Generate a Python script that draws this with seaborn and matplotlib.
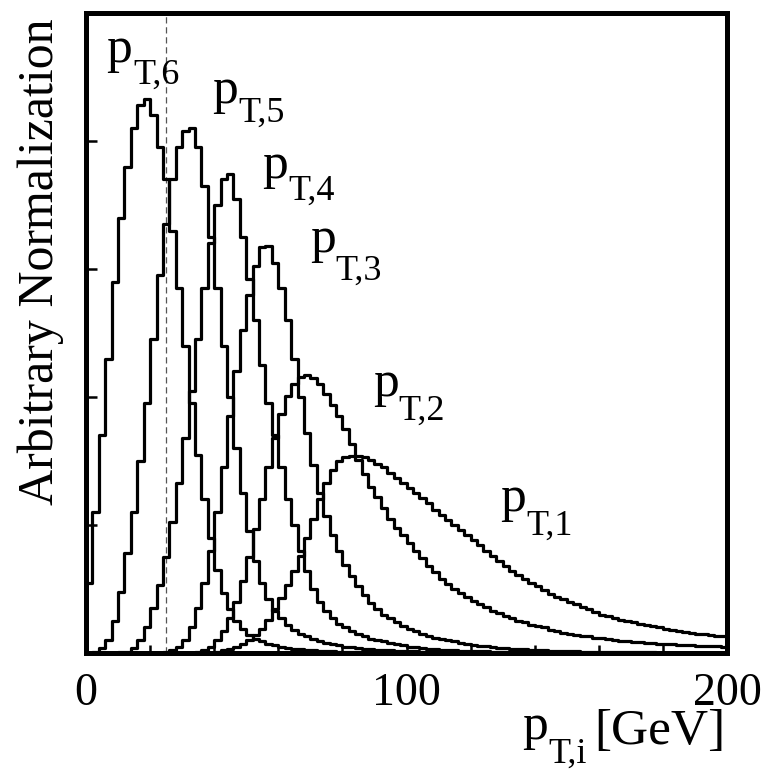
import numpy as np
import pandas as pd
import matplotlib
matplotlib.use("Agg")
import matplotlib.pyplot as plt
import seaborn as sns

# ---- data: 2 GeV bins from 0 to 200 GeV ----
bin_edges = list(range(0, 202, 2))
bin_centers = [e + 1 for e in bin_edges[:-1]]

pt6 = [0.55, 1.1, 1.7, 2.3, 2.9, 3.4, 3.8, 4.1, 4.28, 4.33,
       4.2, 3.95, 3.7, 3.3, 2.85, 2.4, 1.95, 1.55, 1.2, 0.9,
       0.65, 0.47, 0.34, 0.25, 0.19, 0.14, 0.11, 0.09, 0.07, 0.06,
       0.05, 0.04, 0.035, 0.03, 0.025, 0.02, 0.017, 0.014, 0.012, 0.01,
       0.008, 0.007, 0.006, 0.005, 0.004, 0.003, 0.003, 0.002, 0.002, 0.002,
       0.001, 0.001, 0.001, 0.001, 0.001, 0.001, 0.001, 0.001, 0.001, 0.001,
       0, 0, 0, 0, 0, 0, 0, 0, 0, 0,
       0, 0, 0, 0, 0, 0, 0, 0, 0, 0,
       0, 0, 0, 0, 0, 0, 0, 0, 0, 0,
       0, 0, 0, 0, 0, 0, 0, 0, 0, 0]

pt5 = [0, 0.01, 0.04, 0.1, 0.25, 0.48, 0.78, 1.1, 1.5, 1.95,
       2.45, 2.95, 3.35, 3.7, 3.95, 4.08, 4.1, 3.95, 3.65, 3.25,
       2.85, 2.4, 2.0, 1.6, 1.25, 0.95, 0.72, 0.55, 0.42, 0.33,
       0.27, 0.22, 0.18, 0.15, 0.13, 0.11, 0.09, 0.08, 0.07, 0.06,
       0.05, 0.045, 0.04, 0.035, 0.03, 0.026, 0.023, 0.02, 0.018, 0.016,
       0.014, 0.012, 0.011, 0.01, 0.009, 0.008, 0.007, 0.006, 0.005, 0.005,
       0.004, 0.004, 0.003, 0.003, 0.003, 0.002, 0.002, 0.002, 0.002, 0.001,
       0.001, 0.001, 0.001, 0.001, 0.001, 0.001, 0.001, 0.001, 0.001, 0.001,
       0, 0, 0, 0, 0, 0, 0, 0, 0, 0,
       0, 0, 0, 0, 0, 0, 0, 0, 0, 0]

pt4 = [0, 0, 0, 0, 0, 0.005, 0.01, 0.04, 0.1, 0.2,
       0.35, 0.53, 0.75, 1.02, 1.33, 1.68, 2.05, 2.45, 2.85, 3.2,
       3.5, 3.7, 3.74, 3.55, 3.25, 2.92, 2.6, 2.25, 1.95, 1.7,
       1.45, 1.2, 1.0, 0.8, 0.64, 0.5, 0.4, 0.33, 0.27, 0.23,
       0.2, 0.17, 0.15, 0.13, 0.11, 0.1, 0.09, 0.08, 0.07, 0.06,
       0.05, 0.045, 0.04, 0.035, 0.03, 0.027, 0.024, 0.021, 0.019, 0.017,
       0.015, 0.013, 0.012, 0.011, 0.01, 0.009, 0.008, 0.007, 0.006, 0.005,
       0.005, 0.004, 0.004, 0.003, 0.003, 0.003, 0.002, 0.002, 0.002, 0.002,
       0.001, 0.001, 0.001, 0.001, 0.001, 0.001, 0.001, 0.001, 0.001, 0.001,
       0, 0, 0, 0, 0, 0, 0, 0, 0, 0]

pt3 = [0, 0, 0, 0, 0, 0, 0, 0, 0, 0,
       0, 0, 0.005, 0.02, 0.05, 0.1, 0.2, 0.35, 0.55, 0.8,
       1.1, 1.45, 1.85, 2.2, 2.52, 2.8, 3.02, 3.17, 3.18, 3.05,
       2.85, 2.6, 2.3, 2.0, 1.72, 1.47, 1.25, 1.07, 0.92, 0.8,
       0.69, 0.6, 0.52, 0.45, 0.39, 0.34, 0.3, 0.27, 0.24, 0.21,
       0.19, 0.17, 0.15, 0.135, 0.12, 0.11, 0.1, 0.09, 0.08, 0.072,
       0.065, 0.058, 0.052, 0.047, 0.042, 0.038, 0.034, 0.031, 0.028, 0.025,
       0.022, 0.02, 0.018, 0.016, 0.015, 0.013, 0.012, 0.011, 0.01, 0.009,
       0.008, 0.007, 0.007, 0.006, 0.005, 0.005, 0.004, 0.004, 0.004, 0.003,
       0.003, 0.003, 0.002, 0.002, 0.002, 0.002, 0.002, 0.001, 0.001, 0.001]

pt2 = [0, 0, 0, 0, 0, 0, 0, 0, 0, 0,
       0, 0, 0, 0, 0, 0, 0.003, 0.01, 0.025, 0.05,
       0.1, 0.17, 0.27, 0.4, 0.56, 0.75, 0.97, 1.2, 1.45, 1.68,
       1.87, 2.01, 2.1, 2.16, 2.17, 2.15, 2.1, 2.02, 1.94, 1.85,
       1.75, 1.63, 1.51, 1.4, 1.3, 1.22, 1.13, 1.05, 0.98, 0.92,
       0.86, 0.8, 0.74, 0.68, 0.63, 0.58, 0.54, 0.5, 0.47, 0.44,
       0.41, 0.38, 0.36, 0.33, 0.31, 0.29, 0.27, 0.25, 0.24, 0.22,
       0.21, 0.2, 0.18, 0.17, 0.16, 0.15, 0.14, 0.135, 0.13, 0.12,
       0.115, 0.11, 0.1, 0.097, 0.093, 0.089, 0.085, 0.081, 0.077, 0.074,
       0.071, 0.068, 0.065, 0.062, 0.06, 0.057, 0.055, 0.053, 0.051, 0.049]

pt1 = [0, 0, 0, 0, 0, 0, 0, 0, 0, 0,
       0, 0, 0, 0, 0, 0, 0, 0, 0, 0,
       0.01, 0.02, 0.03, 0.05, 0.07, 0.1, 0.14, 0.19, 0.26, 0.34,
       0.43, 0.53, 0.64, 0.76, 0.9, 1.05, 1.2, 1.33, 1.43, 1.5,
       1.53, 1.54, 1.54, 1.53, 1.51, 1.48, 1.45, 1.41, 1.37, 1.33,
       1.29, 1.25, 1.21, 1.17, 1.12, 1.08, 1.04, 1.0, 0.96, 0.92,
       0.88, 0.84, 0.8, 0.76, 0.72, 0.68, 0.64, 0.61, 0.58, 0.55,
       0.52, 0.49, 0.46, 0.44, 0.42, 0.4, 0.38, 0.36, 0.34, 0.32,
       0.3, 0.29, 0.27, 0.26, 0.25, 0.24, 0.23, 0.22, 0.21, 0.2,
       0.19, 0.18, 0.17, 0.165, 0.16, 0.15, 0.145, 0.14, 0.135, 0.13]

series_names = ["pT1", "pT2", "pT3", "pT4", "pT5", "pT6"]
series_values = [pt1, pt2, pt3, pt4, pt5, pt6]
label_subs = ["T,1", "T,2", "T,3", "T,4", "T,5", "T,6"]

x_ticks = [0, 20, 40, 60, 80, 100, 120, 140, 160, 180, 200]
x_ticklabels = ["0", "", "", "", "", "100", "", "", "", "", "200"]
y_ticks = [1, 2, 3, 4]
cut_value = 25

# ---- figure ----
sns.set_style("ticks")
plt.rcParams["font.family"] = ["Liberation Serif", "DejaVu Serif"]
plt.rcParams["text.color"] = "black"
plt.rcParams["xtick.color"] = "black"
plt.rcParams["ytick.color"] = "black"
plt.rcParams["axes.labelcolor"] = "black"

W, H = 762, 772
fig = plt.figure(figsize=(W / 100, H / 100), dpi=100)
ax = fig.add_axes([86 / W, 1 - 653 / H, (727 - 86) / W, (653 - 13) / H])

df = pd.DataFrame({
    "pt": np.tile(bin_centers, len(series_names)),
    "w": np.concatenate([np.asarray(v, dtype=float) for v in series_values]),
    "series": np.repeat(series_names, len(bin_centers)),
})

for name in series_names:
    sub = df[df["series"] == name]
    sns.histplot(data=sub, x="pt", weights="w", bins=bin_edges, element="step",
                 fill=False, color="black", linewidth=2.3, ax=ax)

ax.axvline(cut_value, color="#555555", linestyle=(0, (5, 3)), linewidth=0.9, zorder=0)

ax.set_xlim(0, 200)
ax.set_ylim(0, 5)
ax.set_xticks(x_ticks)
ax.set_xticklabels(x_ticklabels, fontsize=33, color="black")
ax.set_yticks(y_ticks)
ax.set_yticklabels([])
ax.tick_params(axis="x", direction="in", length=6, width=1.8, pad=14, top=False,
               colors="black")
ax.tick_params(axis="y", direction="in", length=8, width=1.8, right=False,
               colors="black")
ax.set_xlabel("")
ax.set_ylabel("")
for s in ax.spines.values():
    s.set_linewidth(3.6)
    s.set_color("black")

# ---- text ----
def ftext(xp, yp, s, size, **kw):
    fig.text(xp / W, 1 - yp / H, s, fontsize=size, va="baseline", ha="left",
             color="black", **kw)

label_pos = {
    "T,6": (106, 62, 133, 84),
    "T,5": (212, 103, 238, 122),
    "T,4": (262, 178, 288, 200),
    "T,3": (310, 252, 335, 280),
    "T,2": (373, 396, 398, 420),
    "T,1": (500, 511, 526, 535),
}
for sub in label_subs:
    px, py, sx, sy = label_pos[sub]
    ftext(px, py, "p", 37)
    ftext(sx, sy, sub, 26)

fig.text(41 / W, 1 - 262 / H, "Arbitrary Normalization", fontsize=36,
         rotation=90, va="center", ha="center", color="black")
ftext(522, 739, "p", 37)
ftext(548, 763, "T,i", 26)
ftext(594, 744, "[GeV]", 37)

fig.savefig("out.png", dpi=100)
